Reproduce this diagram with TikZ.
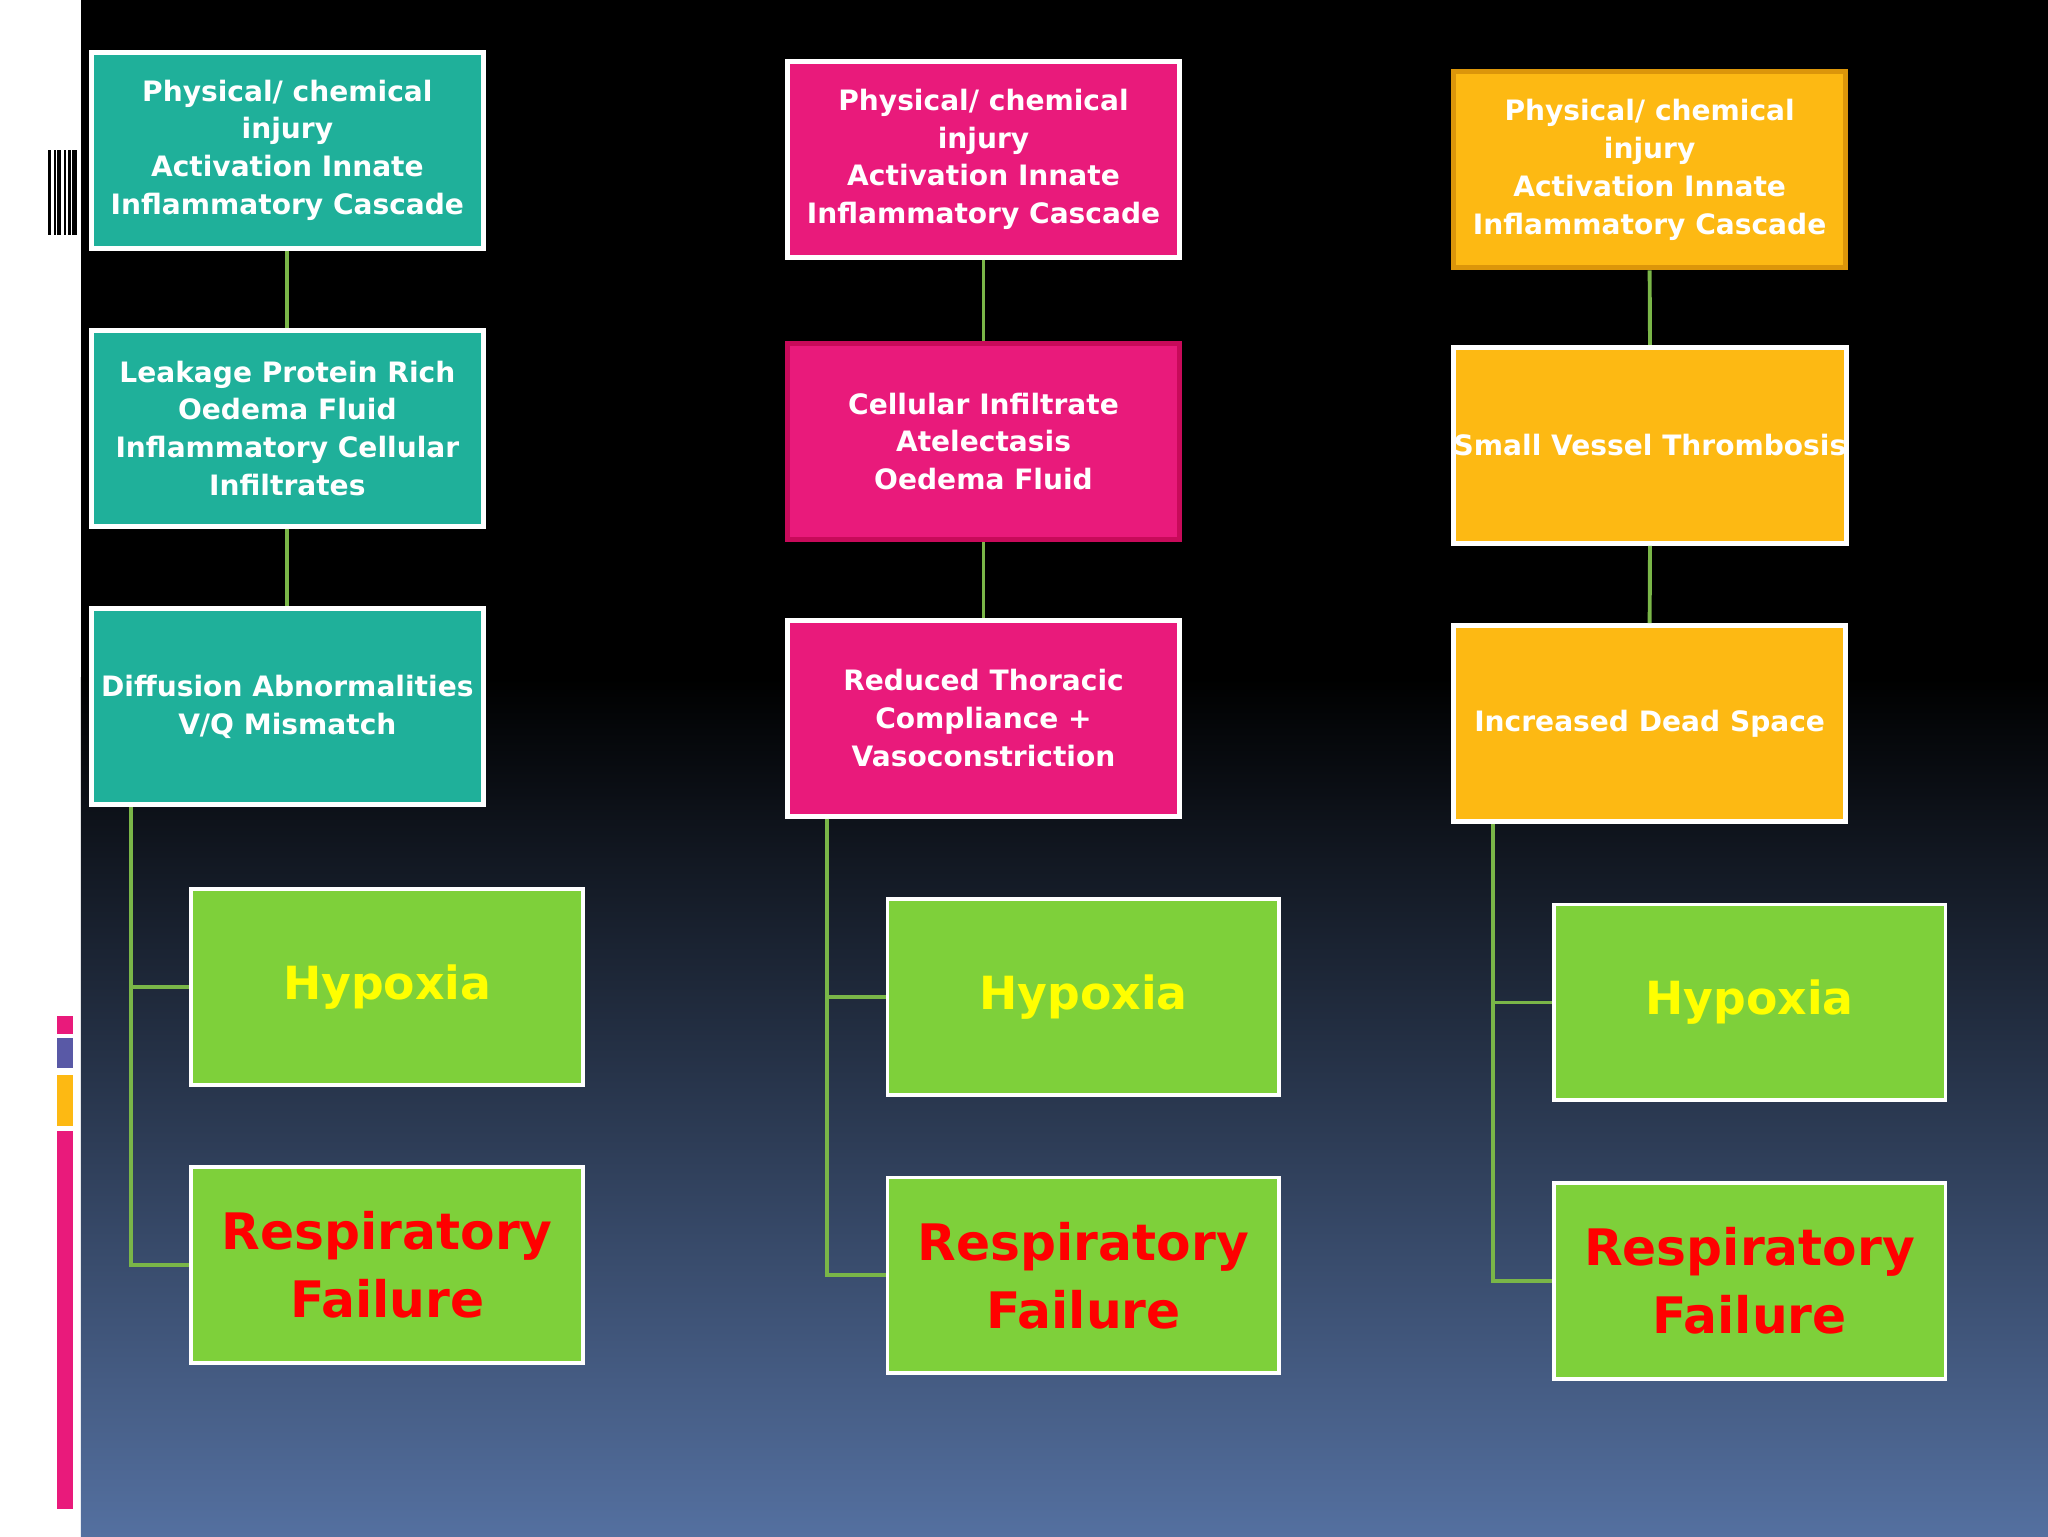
\documentclass[tikz,border=0pt]{standalone}
\usepackage{fontspec}
\setmainfont{DejaVu Sans}
\begin{document}
\begin{tikzpicture}[x=1pt,y=-1pt,
  box/.style={draw=white,line width=4pt,minimum width=300pt,minimum height=150pt,inner sep=0pt,
    align=center,text=white,font=\bfseries\fontsize{21.5}{29}\selectfont,anchor=north west},
  teal/.style={box,fill=tealc},
  pink/.style={box,fill=pinkc},
  orng/.style={box,fill=orangec},
  grn/.style={box,fill=greenc,line width=3pt},
  hyp/.style={grn,text=yellowc,font=\bfseries\fontsize{35}{46}\selectfont},
  rf/.style={grn,text=red,font=\bfseries\fontsize{38.5}{52}\selectfont},
  conn/.style={draw=linec,line width=3pt}]
\definecolor{tealc}{RGB}{31,176,154}
\definecolor{pinkc}{RGB}{233,26,123}
\definecolor{orangec}{RGB}{253,185,19}
\definecolor{greenc}{RGB}{126,208,58}
\definecolor{yellowc}{RGB}{255,255,0}
\definecolor{linec}{RGB}{122,182,72}
\definecolor{bluec}{RGB}{84,112,160}
\definecolor{dpink}{RGB}{200,10,90}
\definecolor{dorange}{RGB}{220,150,10}
\useasboundingbox (0,0) rectangle (1568,1176);
\fill[white] (0,0) rectangle (62,1176);
\fill[black] (62,0) rectangle (1568,520);
\shade[top color=black,bottom color=bluec] (62,519) rectangle (1568,1176);
% barcode
\foreach \x/\w in {37/2,41/1.5,44/3,49/1.5,52/2,55/4}{\fill[black] (\x,115) rectangle (\x+\w,180);}
\fill[pinkc] (44,778) rectangle (56,792);
\fill[gray!70!blue] (44,795) rectangle (56,818);
\fill[orangec] (44,823) rectangle (56,862);
\fill[pinkc] (44,866) rectangle (56,1155);
% column 1
\node[teal] (a1) at (68,38) {Physical/ chemical\\injury\\Activation Innate\\Inflammatory Cascade};
\node[teal] (a2) at (68,251) {Leakage Protein Rich\\Oedema Fluid\\Inflammatory Cellular\\Infiltrates};
\node[teal] (a3) at (68,464) {Diffusion Abnormalities\\V/Q Mismatch};
\node[hyp] (a4) at (145,679) {Hypoxia};
\node[rf] (a5) at (145,892) {Respiratory\\Failure};
% column 2
\node[pink] (b1) at (601,45) {Physical/ chemical\\injury\\Activation Innate\\Inflammatory Cascade};
\node[pink,draw=dpink] (b2) at (601,261) {Cellular Infiltrate\\Atelectasis\\Oedema Fluid};
\node[pink] (b3) at (601,473) {Reduced Thoracic\\Compliance +\\Vasoconstriction};
\node[hyp] (b4) at (678,687) {Hypoxia};
\node[rf] (b5) at (678,900) {Respiratory\\Failure};
% column 3
\node[orng,draw=dorange] (c1) at (1111,53) {Physical/ chemical\\injury\\Activation Innate\\Inflammatory Cascade};
\node[orng] (c2) at (1111,264) {Small Vessel Thrombosis};
\node[orng] (c3) at (1111,477) {Increased Dead Space};
\node[hyp] (c4) at (1188,691) {Hypoxia};
\node[rf] (c5) at (1188,904) {Respiratory\\Failure};
% connectors
\draw[conn] (a1.south) -- (a2.north);
\draw[conn] (a2.south) -- (a3.north);
\draw[conn] (b1.south) -- (b2.north);
\draw[conn] (b2.south) -- (b3.north);
\draw[conn] (c1.south) -- (c2.north);
\draw[conn] (c2.south) -- (c3.north);
\draw[conn] ([xshift=-120pt]a3.south) |- (a5.west);
\draw[conn] ([xshift=-120pt]a3.south) |- (a4.west);
\draw[conn] ([xshift=-120pt]b3.south) |- (b5.west);
\draw[conn] ([xshift=-120pt]b3.south) |- (b4.west);
\draw[conn] ([xshift=-120pt]c3.south) |- (c5.west);
\draw[conn] ([xshift=-120pt]c3.south) |- (c4.west);
\end{tikzpicture}
\end{document}
